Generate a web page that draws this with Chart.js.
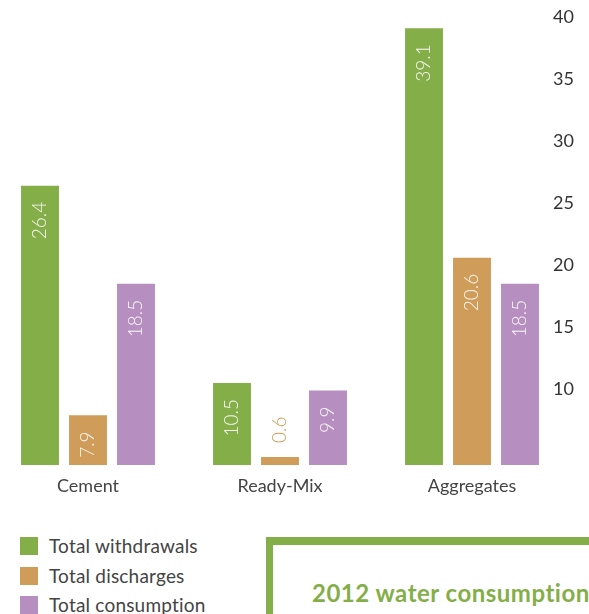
<!DOCTYPE html>
<html>
<head>
<meta charset="utf-8">
<script src="https://cdn.jsdelivr.net/npm/chart.js@4/dist/chart.umd.min.js"></script>
<style>
  html, body { margin: 0; padding: 0; background: #fff; width: 589px; height: 614px; overflow: hidden; font-family: Lato, "Open Sans", sans-serif; }
  #wrap { position: absolute; left: 0; top: 0; width: 589px; height: 500px; }
  #legend { position: absolute; left: 20px; top: 536px; }
  .item { height: 29.5px; display: flex; align-items: flex-start; color: #444; font-size: 19px; letter-spacing: 0.2px; }
  .sw { width: 18px; height: 18px; margin-right: 11px; margin-top: 1px; }
  .item span { line-height: 20px; }
  #box { position: absolute; left: 266px; top: 537px; width: 400px; height: 200px; border-left: 7px solid #84ae48; border-top: 8px solid #84ae48; box-sizing: border-box; }
  #box h2 { margin: 0; position: absolute; left: 39px; top: 33px; font-size: 24px; letter-spacing: 0.5px; font-weight: bold; color: #84ae48; white-space: nowrap; font-family: Lato, sans-serif; }
</style>
</head>
<body>
<div id="wrap"><canvas id="c"></canvas></div>
<div id="legend"></div>
<div id="box"><h2>2012 water consumption</h2></div>
<script>
const categories = ["Cement", "Ready-Mix", "Aggregates"];
const seriesNames = ["Total withdrawals", "Total discharges", "Total consumption"];
const withdrawals = [26.4, 10.5, 39.1];
const discharges = [7.9, 0.6, 20.6];
const consumption = [18.5, 9.9, 18.5];
const yTicks = [10, 15, 20, 25, 30, 35, 40];
const colors = ["#84ae48", "#cf9c5a", "#b68fc0"];

const seriesValues = [withdrawals, discharges, consumption];

const valueLabels = {
  id: 'valueLabels',
  afterDatasetsDraw(chart) {
    const ctx = chart.ctx;
    ctx.save();
    ctx.font = '300 19px Lato, sans-serif';
    chart.data.datasets.forEach((ds, di) => {
      const meta = chart.getDatasetMeta(di);
      meta.data.forEach((bar, i) => {
        const txt = String(ds.data[i]);
        const h = bar.base - bar.y;
        ctx.save();
        if (h > 30) {
          ctx.translate(bar.x, bar.y + 16);
          ctx.rotate(-Math.PI / 2);
          ctx.textAlign = 'right';
          ctx.fillStyle = '#f6f6f2';
        } else {
          ctx.translate(bar.x, bar.y - 14);
          ctx.rotate(-Math.PI / 2);
          ctx.textAlign = 'left';
          ctx.fillStyle = colors[di];
        }
        ctx.textBaseline = 'middle';
        ctx.fillText(txt, 0, 0);
        ctx.restore();
      });
    });
    ctx.restore();
  }
};

new Chart(document.getElementById('c'), {
  type: 'bar',
  data: {
    labels: categories,
    datasets: seriesNames.map((n, k) => ({
      label: n,
      data: seriesValues[k],
      backgroundColor: colors[k],
      borderWidth: 0,
      minBarLength: 8,
      categoryPercentage: 0.75,
      barPercentage: 0.79,
      clip: { left: false, right: false, top: 0, bottom: 0 }
    }))
  },
  options: {
    responsive: true,
    maintainAspectRatio: false,
    animation: false,
    layout: { padding: { left: 88, top: 17, right: 0, bottom: 0 } },
    plugins: { legend: { display: false }, tooltip: { enabled: false } },
    scales: {
      x: {
        offset: false,
        grid: { display: false },
        border: { display: false },
        ticks: { color: '#444', font: { family: 'Lato', size: 18 }, padding: 2, maxRotation: 0, autoSkip: false },
        afterFit: s => { s.height = 35; s.paddingLeft = 0; s.paddingRight = 0; }
      },
      y: {
        position: 'right',
        min: 3.9,
        max: 40,
        grid: { display: false },
        border: { display: false },
        ticks: { color: '#333', font: { family: 'Lato', size: 18, weight: '400' }, padding: 73, crossAlign: 'near' },
        afterBuildTicks: s => { s.ticks = yTicks.map(v => ({ value: v })); },
        afterFit: s => { s.width = 117; s.paddingTop = 0; s.paddingBottom = 0; }
      }
    }
  },
  plugins: [valueLabels]
});

const lg = document.getElementById('legend');
seriesNames.forEach((n, k) => {
  const d = document.createElement('div');
  d.className = 'item';
  d.innerHTML = '<div class="sw" style="background:' + colors[k] + '"></div><span>' + n + '</span>';
  lg.appendChild(d);
});
</script>
</body>
</html>
